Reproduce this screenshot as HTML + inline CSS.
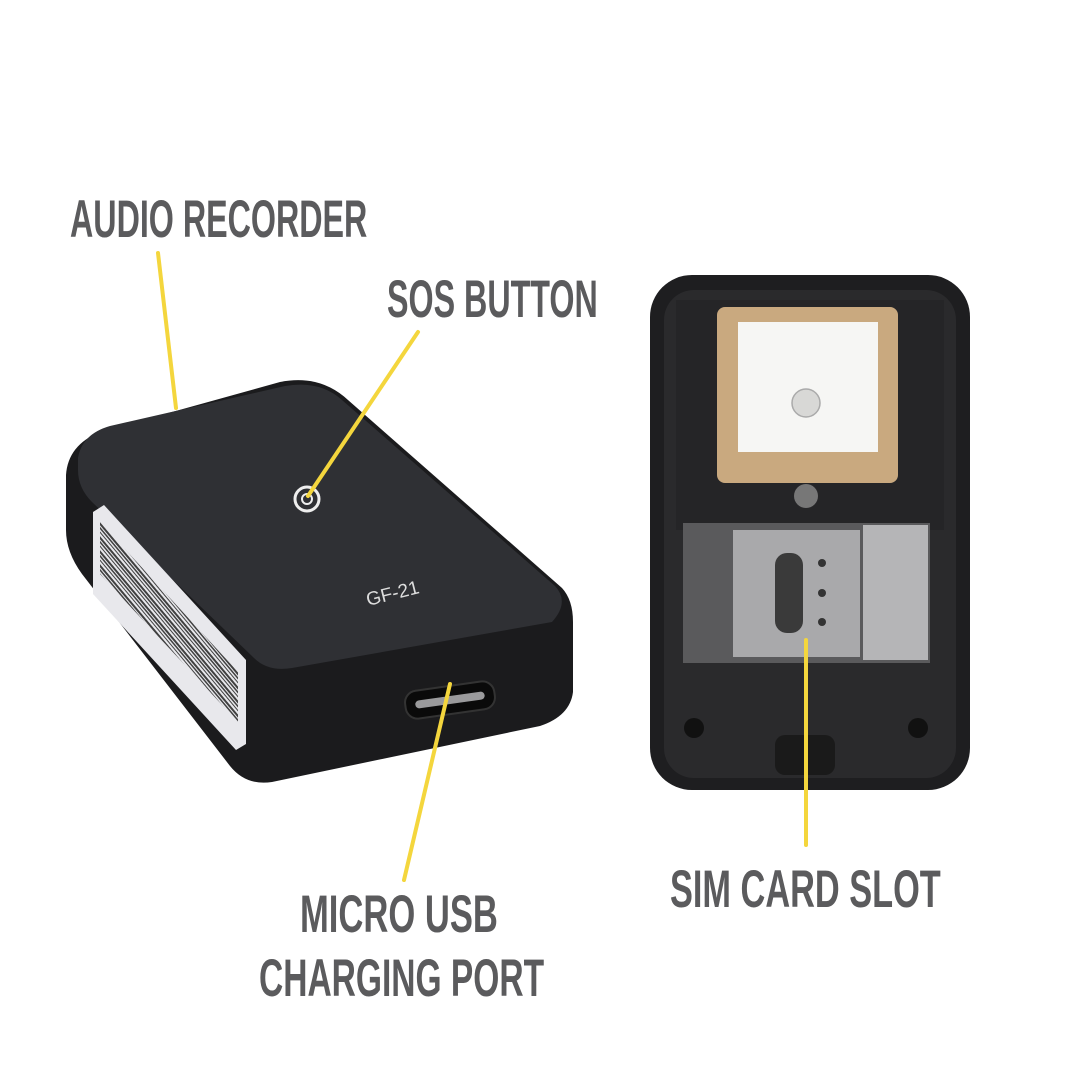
<!DOCTYPE html>
<html><head><meta charset="utf-8"><style>
html,body{margin:0;padding:0;background:#fff;}
.t{position:absolute;font-family:"Liberation Sans",sans-serif;font-weight:bold;color:#5b5b5d;font-size:52px;line-height:1;white-space:nowrap;transform-origin:0 0;}
</style></head><body>
<div style="position:relative;width:1080px;height:1080px;overflow:hidden">
<svg width="1080" height="1080" style="position:absolute;left:0;top:0">
<defs>
<pattern id="bc" width="9" height="10" patternUnits="userSpaceOnUse" patternTransform="rotate(-40)">
<rect x="0" y="0" width="2" height="10" fill="#222"/><rect x="4" y="0" width="1" height="10" fill="#222"/><rect x="6.5" y="0" width="1.5" height="10" fill="#222"/>
</pattern>
</defs>
<path d="M66,475 Q68,445 100,432 L280,382 Q320,374 348,400 L562,588 Q573,600 573,622 L573,692 Q570,716 540,726 L272,782 Q246,786 230,766 L82,574 Q66,552 66,530 Z" fill="#1b1b1d"/>
<path d="M78,458 Q82,434 110,426 L285,386 Q320,380 342,400 L555,586 Q570,602 552,622 L292,668 Q268,672 254,658 L92,502 Q78,488 78,470 Z" fill="#2f3034"/>
<path d="M93,512 L104,505 L246,660 L246,744 L236,750 L93,594 Z" fill="#e8e8ec"/>
<path d="M100,522 L238,672 L238,722 L100,574 Z" fill="url(#bc)" opacity="0.85"/>
<circle cx="307" cy="499" r="12" fill="none" stroke="#eee" stroke-width="3"/>
<circle cx="307" cy="499" r="5" fill="none" stroke="#eee" stroke-width="2"/>
<text x="368" y="606" font-family="Liberation Sans,sans-serif" font-size="19" fill="#ddd" transform="rotate(-14 368 606)">GF-21</text>
<g transform="rotate(-8 450 700)"><rect x="405" y="686" width="90" height="28" rx="12" fill="#0a0a0a" stroke="#333" stroke-width="2"/><rect x="415" y="696" width="70" height="8" rx="4" fill="#9a9a9c"/></g>
<rect x="650" y="275" width="320" height="515" rx="42" fill="#1e1e20"/>
<rect x="664" y="290" width="292" height="488" rx="30" fill="#2a2a2c"/>
<rect x="676" y="300" width="268" height="230" fill="#252527"/>
<rect x="717" y="307" width="181" height="176" rx="8" fill="#c9a97f"/>
<rect x="738" y="322" width="140" height="130" fill="#f6f6f4"/>
<circle cx="806" cy="403" r="14" fill="#d8d8d6" stroke="#aaa" stroke-width="1.5"/>
<circle cx="806" cy="496" r="12" fill="#777"/>
<rect x="683" y="523" width="247" height="140" fill="#5a5a5c"/>
<rect x="733" y="530" width="127" height="127" fill="#a9a9ab"/>
<rect x="863" y="525" width="65" height="135" fill="#b5b5b7"/>
<rect x="775" y="553" width="28" height="80" rx="12" fill="#3a3a3a"/>
<circle cx="822" cy="563" r="4" fill="#333"/><circle cx="822" cy="593" r="4" fill="#333"/><circle cx="822" cy="622" r="4" fill="#333"/>
<circle cx="694" cy="728" r="10" fill="#111"/><circle cx="918" cy="728" r="10" fill="#111"/>
<rect x="775" y="735" width="60" height="40" rx="10" fill="#1a1a1a"/>
<g stroke="#f4d63d" stroke-width="4" stroke-linecap="round">
<line x1="158" y1="253" x2="176" y2="408"/>
<line x1="418" y1="332" x2="308" y2="496"/>
<line x1="450" y1="684" x2="404" y2="880"/>
<line x1="806" y1="640" x2="806" y2="845"/>
</g>
</svg>
<div class="t" style="left:70px;top:193px;transform:scale(0.62,1.02)">AUDIO RECORDER</div>
<div class="t" style="left:387px;top:273px;transform:scale(0.62,1.02)">SOS BUTTON</div>
<div class="t" style="left:300px;top:888px;transform:scale(0.665,1.02)">MICRO USB</div>
<div class="t" style="left:259px;top:952px;transform:scale(0.645,1.02)">CHARGING PORT</div>
<div class="t" style="left:670px;top:863px;transform:scale(0.66,1.02)">SIM CARD SLOT</div>
</div>
</body></html>
